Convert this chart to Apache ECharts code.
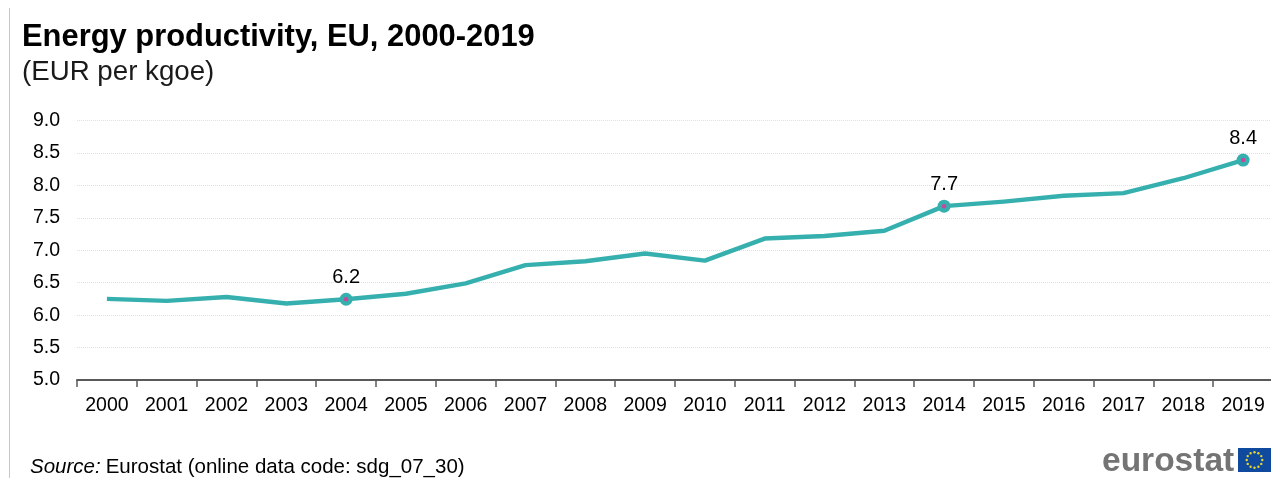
<!DOCTYPE html>
<html><head><meta charset="utf-8">
<style>html,body{margin:0;padding:0;background:#fff}#c{width:1271px;height:478px}</style>
<script src="https://cdn.jsdelivr.net/npm/echarts@6/dist/echarts.min.js"></script>
</head><body><div id="c"></div>
<script>
const categories = ['2000','2001','2002','2003','2004','2005','2006','2007','2008','2009','2010','2011','2012','2013','2014','2015','2016','2017','2018','2019'];
const productivity = [6.25,6.22,6.28,6.18,6.245,6.33,6.49,6.77,6.83,6.95,6.84,7.18,7.22,7.30,7.68,7.75,7.84,7.88,8.11,8.39];
const highlightedYears = ['2004','2014','2019'];
const titleText = 'Energy productivity, EU, 2000-2019';
const subtitleText = '(EUR per kgoe)';
const FONT = '"Liberation Sans", Arial, sans-serif';
const TEAL = '#36b0ae';

const chart = echarts.init(document.getElementById('c'), null, {renderer:'canvas'});

const flagCx = 1254.5, flagCy = 460, ringR = 7.8;
const stars = [];
for (let k = 0; k < 12; k++) {
  const a = k * Math.PI / 6;
  stars.push({type:'circle', silent:true,
    shape:{cx:flagCx + ringR*Math.sin(a), cy:flagCy - ringR*Math.cos(a), r:1.2},
    style:{fill:'#e6d82e'}, z:12});
}

chart.setOption({
  animation:false,
  backgroundColor:'#fff',
  textStyle:{fontFamily:FONT},
  title:[
    {text:titleText, left:22, top:22, padding:0,
     textStyle:{fontFamily:FONT,fontSize:30.9,fontWeight:'bold',color:'#000'}},
    {text:subtitleText, left:22, top:58, padding:0,
     textStyle:{fontFamily:FONT,fontSize:27.7,fontWeight:'normal',color:'#1a1a1a'}},
    {text:'{i|Source:} {n|Eurostat (online data code: sdg_07_30)}', left:30, top:457, padding:0,
     textStyle:{fontWeight:'normal',rich:{
       i:{fontFamily:FONT,fontSize:20.5,fontStyle:'italic',fontWeight:'normal',color:'#000'},
       n:{fontFamily:FONT,fontSize:20.5,fontWeight:'normal',color:'#000'}}}}
  ],
  grid:{left:77, width:1196, top:120.5, height:259.5, containLabel:false, outerBoundsMode:'none'},
  xAxis:{type:'category', data:categories, boundaryGap:true,
    axisLine:{lineStyle:{color:'#595959',width:2}},
    axisTick:{show:true, alignWithLabel:false, length:7, lineStyle:{color:'#595959',width:1.5}},
    axisLabel:{fontFamily:FONT,fontSize:19.5,color:'#000',margin:16,interval:0},
    splitLine:{show:false}},
  yAxis:{type:'value', min:5, max:9, interval:0.5,
    axisLine:{show:false}, axisTick:{show:false},
    axisLabel:{fontFamily:FONT,fontSize:19.5,color:'#000',margin:17,padding:[2,0,0,0],
      formatter:v=>v.toFixed(1)},
    splitLine:{lineStyle:{color:'#e0e0e0',width:1,type:[1,1]}}},
  series:[
    {type:'line', data:categories.map((c,i)=>{
        const hl = highlightedYears.includes(c);
        return {value:productivity[i], symbol:hl?'circle':'none', symbolSize:hl?13:0,
          itemStyle:{color:TEAL},
          label:{show:hl, position:'top', distance:5, fontFamily:FONT, fontSize:20, color:'#000',
                 formatter:p=>p.value.toFixed(1)}};
      }),
      showAllSymbol:true,
      lineStyle:{color:TEAL,width:4.4,join:'round'}, z:3},
    {type:'scatter', symbol:'circle', symbolSize:4.5, silent:true, z:4,
      itemStyle:{color:'#c7489a',opacity:1},
      data:categories.map((c,i)=>highlightedYears.includes(c)?productivity[i]:null)}
  ],
  graphic:[
    {type:'rect', silent:true, shape:{x:9,y:8,width:1,height:470}, style:{fill:'#c8c8c8'}},
    {type:'text', silent:true, x:1102, y:445, z:10,
     style:{text:'eurostat', font:'bold 33.5px '+FONT, fill:'#747474'}},
    {type:'rect', silent:true, shape:{x:1238,y:448,width:33,height:24}, style:{fill:'#0f4a9e'}, z:10}
  ].concat(stars)
});
</script></body></html>
